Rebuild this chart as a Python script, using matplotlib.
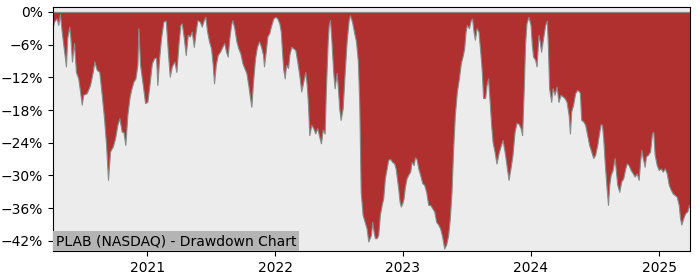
import numpy as np
import pandas as pd
import matplotlib
matplotlib.use('Agg')
import matplotlib.pyplot as plt
import matplotlib.dates as mdates
from matplotlib.ticker import FuncFormatter

# decimal years, drawdown in percent
years = [2020.266, 2020.273, 2020.295, 2020.307, 2020.320, 2020.334, 2020.346, 2020.359, 2020.367,
         2020.377, 2020.393, 2020.404, 2020.414, 2020.430, 2020.445, 2020.463, 2020.477, 2020.490,
         2020.502, 2020.529, 2020.555, 2020.576, 2020.588, 2020.607, 2020.627, 2020.646, 2020.664,
         2020.680, 2020.695, 2020.711, 2020.732, 2020.750, 2020.768, 2020.784, 2020.802, 2020.815,
         2020.830, 2020.846, 2020.862, 2020.875, 2020.893, 2020.909, 2020.924, 2020.932, 2020.945,
         2020.966, 2020.984, 2021.002, 2021.018, 2021.037, 2021.055, 2021.070, 2021.080, 2021.094,
         2021.109, 2021.127, 2021.146, 2021.162, 2021.177, 2021.193, 2021.213, 2021.229, 2021.245,
         2021.260, 2021.271, 2021.287, 2021.302, 2021.318, 2021.334, 2021.349, 2021.365, 2021.380,
         2021.393, 2021.412, 2021.427, 2021.443, 2021.455, 2021.469, 2021.484, 2021.500, 2021.513,
         2021.523, 2021.537, 2021.552, 2021.570, 2021.588, 2021.604, 2021.617, 2021.630, 2021.643,
         2021.656, 2021.666, 2021.682, 2021.698, 2021.713, 2021.729, 2021.745, 2021.760, 2021.776,
         2021.791, 2021.805, 2021.815, 2021.828, 2021.844, 2021.859, 2021.875, 2021.891, 2021.906,
         2021.914, 2021.930, 2021.940, 2021.955, 2021.971, 2021.987, 2022.002, 2022.018, 2022.034,
         2022.045, 2022.055, 2022.065, 2022.076, 2022.086, 2022.102, 2022.112, 2022.127, 2022.143,
         2022.159, 2022.174, 2022.190, 2022.205, 2022.221, 2022.237, 2022.248, 2022.258, 2022.268,
         2022.284, 2022.299, 2022.315, 2022.330, 2022.346, 2022.359, 2022.373, 2022.388, 2022.398,
         2022.412, 2022.420, 2022.430, 2022.440, 2022.455, 2022.466, 2022.482, 2022.492, 2022.502,
         2022.513, 2022.529, 2022.545, 2022.560, 2022.576, 2022.586, 2022.602, 2022.617, 2022.633,
         2022.648, 2022.659, 2022.670, 2022.685, 2022.701, 2022.716, 2022.729, 2022.740, 2022.750,
         2022.760, 2022.771, 2022.781, 2022.795, 2022.807, 2022.820, 2022.834, 2022.846, 2022.859,
         2022.873, 2022.885, 2022.901, 2022.916, 2022.932, 2022.943, 2022.953, 2022.963, 2022.974,
         2022.984, 2022.995, 2023.005, 2023.016, 2023.029, 2023.041, 2023.057, 2023.068, 2023.084,
         2023.094, 2023.107, 2023.120, 2023.135, 2023.151, 2023.166, 2023.182, 2023.198, 2023.213,
         2023.229, 2023.245, 2023.260, 2023.276, 2023.291, 2023.307, 2023.323, 2023.338, 2023.354,
         2023.367, 2023.380, 2023.393, 2023.406, 2023.422, 2023.438, 2023.453, 2023.469, 2023.479,
         2023.490, 2023.500, 2023.516, 2023.531, 2023.541, 2023.552, 2023.563, 2023.576, 2023.591,
         2023.607, 2023.617, 2023.627, 2023.643, 2023.654, 2023.666, 2023.680, 2023.690, 2023.701,
         2023.716, 2023.732, 2023.748, 2023.763, 2023.779, 2023.795, 2023.810, 2023.826, 2023.841,
         2023.857, 2023.873, 2023.888, 2023.904, 2023.920, 2023.932, 2023.945, 2023.955, 2023.966,
         2023.982, 2023.998, 2024.008, 2024.018, 2024.034, 2024.045, 2024.060, 2024.070, 2024.080,
         2024.096, 2024.112, 2024.125, 2024.133, 2024.143, 2024.159, 2024.170, 2024.185, 2024.201,
         2024.216, 2024.232, 2024.248, 2024.263, 2024.279, 2024.295, 2024.305, 2024.315, 2024.330,
         2024.346, 2024.362, 2024.377, 2024.383, 2024.393, 2024.409, 2024.424, 2024.440, 2024.455,
         2024.471, 2024.487, 2024.502, 2024.518, 2024.534, 2024.545, 2024.555, 2024.565, 2024.576,
         2024.591, 2024.602, 2024.612, 2024.623, 2024.638, 2024.654, 2024.664, 2024.674, 2024.690,
         2024.705, 2024.721, 2024.737, 2024.748, 2024.763, 2024.779, 2024.795, 2024.810, 2024.826,
         2024.841, 2024.852, 2024.862, 2024.873, 2024.888, 2024.898, 2024.914, 2024.930, 2024.945,
         2024.955, 2024.966, 2024.982, 2024.998, 2025.013, 2025.029, 2025.045, 2025.060, 2025.076,
         2025.091, 2025.107, 2025.123, 2025.138, 2025.154, 2025.164, 2025.174, 2025.190, 2025.205,
         2025.221, 2025.234, 2025.242]

drawdown = [-2.5, -1.8, -1.2, -2.4, -0.4, -3.6, -6.0, -8.4, -10.0,
            -4.8, -2.7, -5.4, -9.1, -5.7, -11.0, -12.2, -14.6, -17.0,
            -15.2, -14.9, -13.4, -11.0, -9.1, -10.6, -11.0, -15.2, -19.5,
            -24.4, -30.8, -25.6, -24.7, -23.2, -20.7, -19.5, -22.0, -22.0,
            -24.4, -18.9, -15.8, -14.3, -12.8, -12.2, -9.7, -3.0, -9.7,
            -13.4, -16.7, -16.5, -13.4, -9.4, -8.5, -8.4, -13.4, -8.5,
            -4.8, -1.8, -1.6, -7.3, -11.9, -10.0, -9.1, -11.0, -6.0,
            -2.4, -2.1, -4.8, -7.9, -4.2, -4.5, -3.6, -6.4, -3.6,
            -1.5, -1.8, -2.7, -1.5, -0.9, -3.6, -5.4, -6.7, -9.7,
            -13.1, -9.7, -7.9, -7.3, -6.4, -5.7, -7.3, -8.2, -4.8,
            -2.4, -1.5, -3.0, -5.4, -6.7, -7.6, -9.4, -10.3, -11.2,
            -13.4, -15.8, -17.4, -12.8, -8.5, -6.4, -5.4, -6.4, -7.9,
            -10.0, -6.7, -4.5, -3.9, -2.4, -1.2, -0.9, -1.2, -2.1,
            -3.6, -7.3, -10.6, -12.2, -9.7, -10.3, -7.9, -6.4, -6.7,
            -7.0, -9.1, -11.6, -14.6, -12.8, -11.0, -13.4, -17.0, -22.6,
            -20.7, -21.3, -22.3, -21.3, -22.9, -24.1, -21.6, -22.3, -14.0,
            -5.4, -2.4, -1.5, -4.8, -11.0, -14.0, -11.2, -14.0, -17.7,
            -19.8, -17.7, -11.0, -5.4, -1.5, -0.6, -1.8, -3.6, -5.4,
            -9.1, -17.0, -33.0, -37.2, -38.5, -39.7, -42.1, -41.5, -40.9,
            -38.5, -40.3, -41.5, -41.5, -40.9, -37.2, -35.4, -34.2, -30.5,
            -28.7, -27.1, -27.0, -27.5, -27.8, -28.7, -30.5, -32.3, -34.8,
            -35.7, -35.1, -34.2, -32.0, -30.5, -29.9, -29.3, -27.5, -28.1,
            -26.7, -27.0, -28.7, -29.9, -31.4, -31.7, -33.0, -35.4, -35.4,
            -36.0, -36.6, -38.5, -39.0, -39.7, -41.2, -43.4, -42.7, -40.9,
            -37.8, -33.0, -25.0, -18.9, -14.6, -12.2, -9.4, -7.9, -6.7,
            -3.6, -2.4, -3.0, -1.5, -1.2, -3.6, -5.1, -3.0, -3.6,
            -7.9, -11.0, -15.8, -15.8, -13.4, -12.2, -17.0, -20.7, -23.8,
            -25.6, -27.8, -25.9, -24.7, -23.5, -25.6, -28.1, -30.8, -28.7,
            -26.2, -22.0, -20.4, -20.5, -21.3, -22.6, -14.0, -6.0, -2.1,
            -0.9, -2.4, -6.0, -8.2, -8.8, -10.0, -4.2, -5.4, -7.3,
            -4.8, -2.4, -1.6, -6.0, -14.0, -16.5, -14.0, -15.2, -13.7,
            -16.5, -15.2, -15.5, -15.8, -16.5, -18.9, -22.3, -18.3, -17.0,
            -14.9, -14.3, -14.6, -14.9, -19.8, -20.1, -20.7, -22.6, -24.4,
            -25.6, -26.8, -26.2, -24.4, -22.0, -20.6, -20.7, -23.2, -27.5,
            -32.3, -35.4, -31.7, -29.9, -29.0, -26.8, -29.3, -31.7, -33.0,
            -31.1, -30.5, -28.7, -27.8, -28.1, -29.0, -29.6, -30.2, -29.6,
            -30.8, -27.5, -25.3, -26.8, -28.4, -26.5, -26.2, -25.6, -22.3,
            -22.0, -26.2, -28.1, -29.0, -28.7, -29.3, -28.7, -29.6, -31.7,
            -32.6, -33.3, -33.6, -33.9, -35.4, -37.8, -39.0, -37.8, -36.9,
            -36.6, -35.4, -36.0]

yticks = [0, -6, -12, -18, -24, -30, -36, -42]
title = 'PLAB (NASDAQ) - Drawdown Chart'


def to_date(y):
    yr = int(y)
    start = pd.Timestamp(year=yr, month=1, day=1)
    days = (pd.Timestamp(year=yr + 1, month=1, day=1) - start).days
    return start + pd.Timedelta(days=(y - yr) * days)


dates = pd.to_datetime([to_date(y) for y in years])
dd = np.array(drawdown)

fig = plt.figure(figsize=(7, 2.8), dpi=100)
ax = fig.add_axes([0.0757, 0.1036, 0.91, 0.8714])
ax.set_facecolor('#ececec')

ax.fill_between(dates, dd, 0, color='#b03030', edgecolor='#8a8a8a', linewidth=0.8)

ax.set_xlim(dates[0], dates[-1])
ax.xaxis.set_major_locator(mdates.YearLocator())
ax.xaxis.set_major_formatter(mdates.DateFormatter('%Y'))
ax.set_ylim(-43.85, 0.9)
ax.set_yticks(yticks)
ax.yaxis.set_major_formatter(FuncFormatter(lambda v, p: f'{v:.0f}%'.replace('-', '\u2212')))
ax.tick_params(labelsize=10)

ax.text(0.005, 0.012, title, transform=ax.transAxes, fontsize=10, ha='left', va='bottom',
        bbox=dict(facecolor='#b4b4b4', edgecolor='none', pad=2))

fig.savefig('out.png', dpi=100)
